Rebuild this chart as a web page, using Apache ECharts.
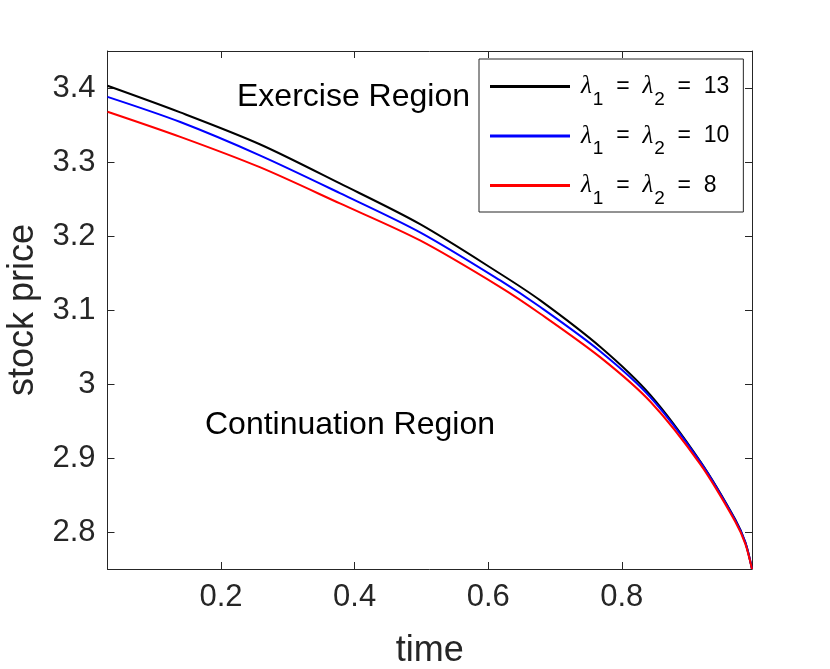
<!DOCTYPE html>
<html>
<head>
<meta charset="utf-8">
<script src="https://cdn.jsdelivr.net/npm/echarts@6/dist/echarts.min.js"></script>
<style>
html,body{margin:0;padding:0;background:#fff;}
#chart{width:830px;height:669px;}
</style>
</head>
<body>
<div id="chart"></div>
<script>
// ---- data ----
const times = [0.03, 0.139, 0.258, 0.378, 0.498, 0.618, 0.678, 0.768, 0.843, 0.918, 0.970, 0.985, 0.995];
const lambda13 = [3.403, 3.367, 3.324, 3.271, 3.216, 3.149, 3.113, 3.050, 2.985, 2.895, 2.817, 2.786, 2.75];
const lambda10 = [3.388, 3.354, 3.309, 3.258, 3.205, 3.140, 3.104, 3.044, 2.982, 2.894, 2.816, 2.786, 2.75];
const lambda8  = [3.368, 3.334, 3.293, 3.244, 3.194, 3.131, 3.095, 3.036, 2.976, 2.891, 2.814, 2.784, 2.75];
const lambdaValues = ['13', '10', '8'];
const seriesColors = ['#000000', '#0000ff', '#ff0000'];
const xTicks = [0.2, 0.4, 0.6, 0.8];
const yTicks = [2.8, 2.9, 3.0, 3.1, 3.2, 3.3, 3.4];
const xRange = [0.03, 0.995];
const yRange = [2.75, 3.45];

const seriesData = [lambda13, lambda10, lambda8];
const seriesNames = lambdaValues.map(v => 'λ1 = λ2 = ' + v);

const chart = echarts.init(document.getElementById('chart'), null, {renderer: 'canvas'});
const axisColor = '#262626';
const font = 'Liberation Sans, Arial, Helvetica, sans-serif';

function mkX(pos, show) {
  return {
    type: 'value', position: pos, min: xRange[0], max: xRange[1],
    name: show ? 'time' : '', nameLocation: 'middle', nameGap: 64,
    nameTextStyle: {fontSize: 36, color: axisColor, fontFamily: font},
    axisLine: {show: true, onZero: false, lineStyle: {color: axisColor, width: 1}},
    axisTick: {show: true, inside: true, length: 7, customValues: xTicks, lineStyle: {color: axisColor}},
    axisLabel: {show: show, customValues: xTicks, fontSize: 31, color: axisColor, fontFamily: font, margin: 13},
    splitLine: {show: false}
  };
}
function mkY(pos, show) {
  return {
    type: 'value', position: pos, min: yRange[0], max: yRange[1],
    name: show ? 'stock price' : '', nameLocation: 'middle', nameGap: 57,
    nameTextStyle: {fontSize: 36, color: axisColor, fontFamily: font},
    axisLine: {show: true, onZero: false, lineStyle: {color: axisColor, width: 1}},
    axisTick: {show: true, inside: true, length: 7, customValues: yTicks, lineStyle: {color: axisColor}},
    axisLabel: {show: show, customValues: yTicks, fontSize: 31, color: axisColor, fontFamily: font, margin: 12,
      formatter: v => (Math.round(v * 10) / 10).toString()},
    splitLine: {show: false}
  };
}

const option = {
  backgroundColor: '#ffffff',
  animation: false,
  grid: {left: 107.5, right: 78, top: 51, bottom: 100, containLabel: false, outerBoundsMode: 'none'},
  xAxis: [mkX('bottom', true), mkX('top', false)],
  yAxis: [mkY('left', true), mkY('right', false)],
  legend: {
    left: 479, top: 59, orient: 'vertical',
    padding: [5, 14, 4, 11],
    itemWidth: 80, itemHeight: 3, itemGap: 4.5, icon: 'rect',
    borderColor: axisColor, borderWidth: 1, backgroundColor: '#ffffff',
    data: seriesNames,
    formatter: name => {
      const v = name.split('= ').pop();
      return '{g0|λ}{s|1}{t|  =  }{g|λ}{s|2}{t|  =  ' + v + '}';
    },
    textStyle: {
      rich: {
        t: {fontSize: 23, fontFamily: font, color: '#000', lineHeight: 30},
        g0: {fontSize: 25, fontFamily: 'Liberation Serif, DejaVu Serif, serif', fontStyle: 'italic', color: '#000', lineHeight: 30, padding: [0, 0, 0, 6]},
        g: {fontSize: 25, fontFamily: 'Liberation Serif, DejaVu Serif, serif', fontStyle: 'italic', color: '#000', lineHeight: 30},
        s: {fontSize: 19, fontFamily: font, color: '#000', lineHeight: 19, padding: [26, 0, 0, 1]}
      }
    }
  },
  graphic: [
    {type: 'text', left: 237, top: 81, style: {text: 'Exercise Region', fontSize: 32, fontFamily: font, fill: '#000'}},
    {type: 'text', left: 205, top: 409, style: {text: 'Continuation Region', fontSize: 32, fontFamily: font, fill: '#000'}}
  ],
  series: seriesData.map((arr, i) => ({
    name: seriesNames[i],
    type: 'line',
    xAxisIndex: 0, yAxisIndex: 0,
    data: times.map((t, j) => [t, arr[j]]),
    showSymbol: false,
    smooth: 0.3,
    lineStyle: {color: seriesColors[i], width: 2},
    itemStyle: {color: seriesColors[i]},
    z: 2 + i
  }))
};
chart.setOption(option);
</script>
</body>
</html>
